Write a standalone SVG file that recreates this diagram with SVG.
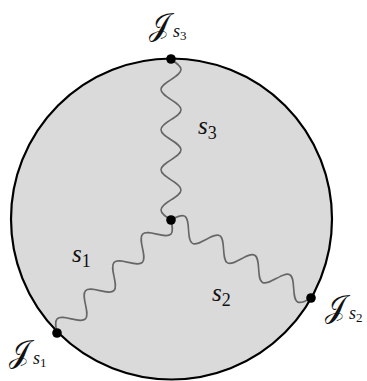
<svg xmlns="http://www.w3.org/2000/svg" xmlns:xlink="http://www.w3.org/1999/xlink" width="367" height="381" viewBox="0 0 367 381">
  <style>
    .disk { fill: #dadada; stroke: #000; stroke-width: 2.2; }
    .dot { fill: #000; }
    .wave { fill: none; stroke: #666; stroke-width: 1.6; stroke-linejoin: round; }
    .lbl { font-family: "Liberation Serif", "DejaVu Serif", serif; fill: #111; }
    .it { font-style: italic; }
    .scr { font-family: "DejaVu Serif", "DejaVu Sans", "Noto Sans", serif; font-style: normal; }
  </style>
  <defs>
    <path id="snake" d="M0,0 c 3.27,-5.12 6.4,-10 10.03,-10 s 6.76,4.88 10.03,10 s 6.4,10 10.03,10 s 6.76,-4.88 10.03,-10 s 6.4,-10 10.03,-10 s 6.76,4.88 10.03,10 s 6.4,10 10.03,10 s 6.76,-4.88 10.03,-10 s 6.4,-10 10.03,-10 s 6.76,4.88 10.03,10 s 6.4,10 10.03,10 s 6.76,-4.88 10.03,-10 s 6.4,-10 10.03,-10 s 6.76,4.88 10.03,10 s 6.4,10 10.03,10 s 6.76,-4.88 10.03,-10"/>
  </defs>

  <g id="region">
    <circle class="disk" cx="171.5" cy="219" r="160.5"/>
  </g>

  <g id="connectors">
    <use id="s1" class="wave" xlink:href="#snake" href="#snake" transform="translate(171,220) rotate(135.25)"/>
    <use id="s2" class="wave" xlink:href="#snake" href="#snake" transform="translate(171,220) rotate(29.12)"/>
    <use id="s3" class="wave" xlink:href="#snake" href="#snake" transform="translate(171,220) rotate(-90)"/>
  </g>

  <g id="node-center">
    <circle class="dot" cx="171" cy="220" r="4.8"/>
  </g>
  <g id="node-J3">
    <circle class="dot" cx="171" cy="59" r="4.8"/>
    <text class="lbl" x="149" y="35"><tspan class="scr" font-size="30">𝒥</tspan><tspan class="it" font-size="18" dx="3" dy="2">s</tspan><tspan font-size="13" dy="3">3</tspan></text>
  </g>
  <g id="node-J1">
    <circle class="dot" cx="57" cy="333" r="4.8"/>
    <text class="lbl" x="9" y="362"><tspan class="scr" font-size="30">𝒥</tspan><tspan class="it" font-size="18" dx="3" dy="2">s</tspan><tspan font-size="13" dy="3">1</tspan></text>
  </g>
  <g id="node-J2">
    <circle class="dot" cx="311" cy="298" r="4.8"/>
    <text class="lbl" x="325" y="317"><tspan class="scr" font-size="30">𝒥</tspan><tspan class="it" font-size="18" dx="3" dy="2">s</tspan><tspan font-size="13" dy="3">2</tspan></text>
  </g>

  <g id="edge-labels">
    <text class="lbl" x="72" y="262"><tspan class="it" font-size="25">s</tspan><tspan font-size="18" dy="5">1</tspan></text>
    <text class="lbl" x="212" y="301"><tspan class="it" font-size="25">s</tspan><tspan font-size="18" dy="5">2</tspan></text>
    <text class="lbl" x="198" y="134"><tspan class="it" font-size="25">s</tspan><tspan font-size="18" dy="5">3</tspan></text>
  </g>
</svg>
